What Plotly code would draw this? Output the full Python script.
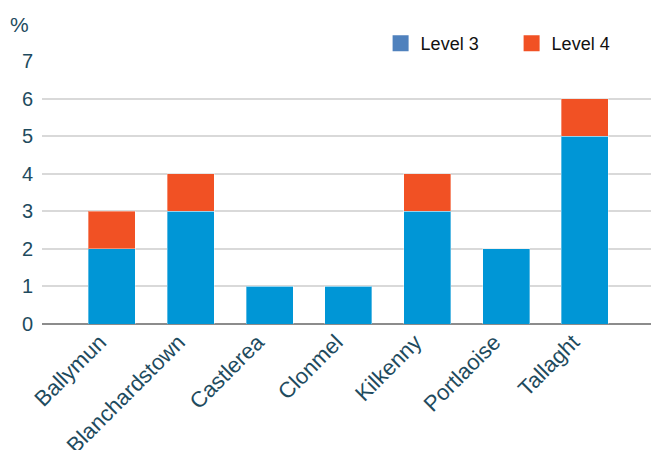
import plotly.graph_objects as go

categories = ["Ballymun", "Blanchardstown", "Castlerea", "Clonmel", "Kilkenny", "Portlaoise", "Tallaght"]
level3 = [2, 3, 1, 1, 3, 2, 5]
level4 = [1, 1, 0, 0, 1, 0, 1]
y_ticks = [0, 1, 2, 3, 4, 5, 6, 7]

BAR3 = "#0096D6"
BAR4 = "#F15124"
LEG3 = "#4F81BD"
LEG4 = "#F15124"
TEXT = "#1E4B5E"
FONT = "Liberation Sans, Arial, sans-serif"

fig = go.Figure()
fig.add_trace(go.Bar(x=categories, y=level3, name="Level 3", marker=dict(color=BAR3, line=dict(width=1, color="rgba(255,255,255,0.35)")), showlegend=False))
fig.add_trace(go.Bar(x=categories, y=level4, name="Level 4", marker=dict(color=BAR4, line=dict(width=1, color="rgba(255,255,255,0.35)")), showlegend=False))
# legend entries
fig.add_trace(go.Scatter(x=[None], y=[None], mode="markers", name="Level 3",
                         marker=dict(symbol="square", size=16, color=LEG3)))
fig.add_trace(go.Scatter(x=[None], y=[None], mode="markers", name="Level 4",
                         marker=dict(symbol="square", size=16, color=LEG4)))

fig.update_layout(
    width=651, height=450,
    margin=dict(l=42, r=0, t=61, b=126),
    barmode="stack", bargap=0.404,
    plot_bgcolor="white", paper_bgcolor="white",
    font=dict(family=FONT, size=20, color=TEXT),
    legend=dict(orientation="h", x=0.556, xanchor="left", y=1.066, yanchor="middle",
                traceorder="normal",
                font=dict(size=18, color="#111111"), bgcolor="rgba(0,0,0,0)",
                entrywidth=86, entrywidthmode="pixels", itemsizing="trace"),
    annotations=[dict(text="%", xref="paper", yref="paper", x=-0.037, y=1.14,
                      xanchor="center", yanchor="middle", showarrow=False,
                      font=dict(size=21, color=TEXT))],
)
fig.update_xaxes(range=[-0.885, 6.837], tickangle=-45, showgrid=False,
                 showline=False, ticks="", ticklabelshift=-12, automargin=False,
                 tickfont=dict(size=22, color=TEXT))
fig.update_yaxes(range=[0, 7], tickvals=y_ticks, showgrid=True, gridcolor="#D9D9D9",
                 gridwidth=1.5, zeroline=True, zerolinecolor="#8C8C8C", zerolinewidth=1.5,
                 ticks="", ticklabelstandoff=8, automargin=False,
                 tickfont=dict(size=20, color=TEXT))

fig.write_html("out.html")
